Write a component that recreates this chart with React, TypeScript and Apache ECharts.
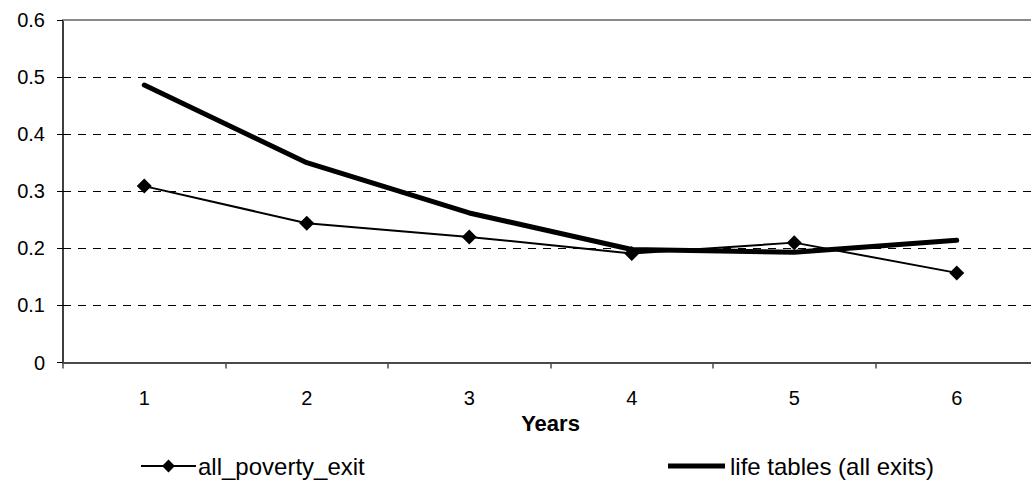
import React, { useEffect, useRef } from "react";
import * as echarts from "echarts";

const years = ["1", "2", "3", "4", "5", "6"];
const povertyExit = [0.309, 0.244, 0.22, 0.191, 0.21, 0.157];
const lifeTables = [0.486, 0.35, 0.262, 0.198, 0.193, 0.214];
const seriesNames = ["all_poverty_exit", "life tables (all exits)"];

const FONT = "Liberation Sans, Arial, sans-serif";

export default function App() {
  const ref = useRef<HTMLDivElement>(null);

  useEffect(() => {
    if (!ref.current) return;
    const chart = echarts.init(ref.current, null, { renderer: "svg" });
    const legendText = { fontSize: 24, color: "#000", fontFamily: FONT };
    chart.setOption({
      animation: false,
      backgroundColor: "#ffffff",
      textStyle: { fontFamily: FONT, color: "#000" },
      // the plot runs slightly past the right edge of the visible frame
      grid: { left: 63, top: 20, width: 975, height: 342.5, containLabel: false },
      legend: [
        {
          data: [{ name: seriesNames[0] }],
          left: 140,
          top: 454,
          padding: 0,
          itemWidth: 55,
          itemHeight: 16,
          itemGap: 2,
          textStyle: { ...legendText, padding: [0, 0, 0, -3] },
        },
        {
          data: [{ name: seriesNames[1], icon: "rect" }],
          left: 668,
          top: 454,
          padding: 0,
          itemWidth: 57,
          itemHeight: 5,
          itemGap: 2,
          itemStyle: { color: "#000", borderWidth: 0 },
          textStyle: legendText,
        },
      ],
      xAxis: [
        {
          type: "category",
          data: years,
          boundaryGap: true,
          name: "Years",
          nameLocation: "middle",
          nameGap: 45,
          nameTextStyle: { fontSize: 22, fontWeight: "bold", color: "#000", fontFamily: FONT },
          axisLine: { lineStyle: { color: "#4a4a4a", width: 2 } },
          axisTick: { show: true, length: 6, alignWithLabel: false, lineStyle: { color: "#4a4a4a", width: 1.5 } },
          axisLabel: { fontSize: 20, color: "#000", margin: 25, fontFamily: FONT },
          splitLine: { show: false },
        },
        {
          type: "category",
          data: years,
          position: "top",
          boundaryGap: true,
          axisLine: { lineStyle: { color: "#8a8a8a", width: 2 } },
          axisTick: { show: false },
          axisLabel: { show: false },
          splitLine: { show: false },
        },
      ],
      yAxis: {
        type: "value",
        min: 0,
        max: 0.6,
        interval: 0.1,
        axisLine: { show: true, lineStyle: { color: "#000", width: 1.5 } },
        axisTick: { show: true, length: 6, lineStyle: { color: "#000", width: 1 } },
        axisLabel: {
          fontSize: 20,
          color: "#000",
          margin: 18,
          fontFamily: FONT,
          formatter: (v: number) => (v === 0 ? "0" : v.toFixed(1)),
        },
        splitLine: { show: true, lineStyle: { color: "#000", width: 1, type: [8, 7] } },
      },
      series: [
        {
          name: seriesNames[0],
          type: "line",
          data: povertyExit,
          symbol: "diamond",
          symbolSize: 15,
          itemStyle: { color: "#000" },
          lineStyle: { color: "#000", width: 2 },
          z: 3,
        },
        {
          name: seriesNames[1],
          type: "line",
          data: lifeTables,
          symbol: "none",
          lineStyle: { color: "#000", width: 5, cap: "round", join: "round" },
          itemStyle: { color: "#000" },
          z: 4,
        },
      ],
    });
    return () => chart.dispose();
  }, []);

  return (
    <div
      style={{
        position: "absolute",
        left: 0,
        top: 0,
        width: 1031,
        height: 484,
        overflow: "hidden",
        background: "#fff",
      }}
    >
      <div ref={ref} style={{ width: 1040, height: 484 }} />
    </div>
  );
}
